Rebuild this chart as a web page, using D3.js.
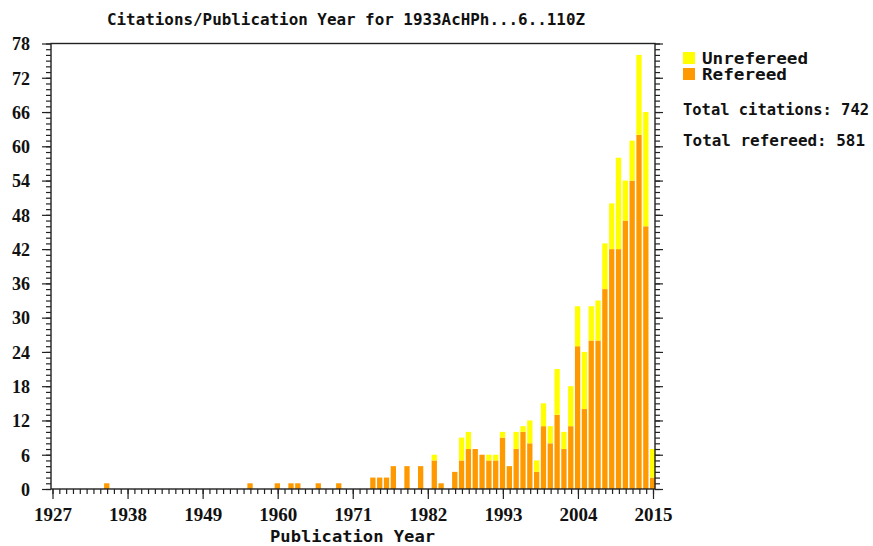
<!DOCTYPE html>
<html>
<head>
<meta charset="utf-8">
<script src="https://cdn.jsdelivr.net/npm/d3@7"></script>
<style>
  body { margin: 0; background: #fff; }
  .lbl { font-family: "DejaVu Sans Mono", monospace; font-weight: bold; fill: #111; }
  .num { font-family: "Liberation Serif", serif; font-weight: bold; fill: #111; }
</style>
</head>
<body>
<div id="chart"></div>
<script>
// citations per publication year
var years = [1935, 1956, 1960, 1962, 1963, 1966, 1969, 1974, 1975, 1976, 1977, 1979, 1981, 1983, 1984,
  1986, 1987, 1988, 1989, 1990, 1991, 1992, 1993, 1994, 1995, 1996, 1997, 1998, 1999, 2000,
  2001, 2002, 2003, 2004, 2005, 2006, 2007, 2008, 2009, 2010, 2011, 2012, 2013, 2014, 2015];
var refereed = [1, 1, 1, 1, 1, 1, 1, 2, 2, 2, 4, 4, 4, 5, 1,
  3, 5, 7, 7, 6, 5, 5, 9, 4, 7, 10, 8, 3, 11, 8,
  13, 7, 11, 25, 14, 26, 26, 35, 42, 42, 47, 54, 62, 46, 2];
var unrefereed = [0, 0, 0, 0, 0, 0, 0, 0, 0, 0, 0, 0, 0, 1, 0,
  0, 4, 3, 0, 0, 1, 1, 1, 0, 3, 1, 4, 2, 4, 3,
  8, 3, 7, 7, 10, 6, 7, 8, 8, 16, 7, 7, 14, 20, 5];
var yearTicks = [1927, 1938, 1949, 1960, 1971, 1982, 1993, 2004, 2015];
var countTicks = [0, 6, 12, 18, 24, 30, 36, 42, 48, 54, 60, 66, 72, 78];

drawChart();

function drawChart() {
  var width = 873, height = 546;
  var pl = 51, pr = 655, pt = 43.5, pb = 489;

  var svg = d3.select("#chart").append("svg")
    .attr("width", width)
    .attr("height", height);

  var x = d3.scaleLinear().domain([1927, 2015]).range([52.5, 653]);
  var y = d3.scaleLinear().domain([0, 78]).range([pb, pt]);

  var data = years.map(function(d, i) {
    return { year: d, ref: refereed[i], unref: unrefereed[i] };
  });

  // bars
  var bars = svg.append("g");
  bars.selectAll(".ref")
    .data(data)
    .enter().append("rect")
    .attr("x", function(d) { return x(d.year) - 3; })
    .attr("width", 5.3)
    .attr("y", function(d) { return y(d.ref); })
    .attr("height", function(d) { return y(0) - y(d.ref); })
    .style("fill", "#ff9900");
  bars.selectAll(".unref")
    .data(data.filter(function(d) { return d.unref > 0; }))
    .enter().append("rect")
    .attr("x", function(d) { return x(d.year) - 3; })
    .attr("width", 5.3)
    .attr("y", function(d) { return y(d.ref + d.unref); })
    .attr("height", function(d) { return y(d.ref) - y(d.ref + d.unref); })
    .style("fill", "#ffff00");

  function styleAxis(g) {
    g.select(".domain").remove();
    g.selectAll(".tick line").attr("stroke", "#222").attr("stroke-width", 1.2);
  }

  // left axis
  svg.append("g").attr("transform", "translate(" + pl + ",0)")
    .call(d3.axisLeft(y).tickValues(d3.range(0, 79)).tickSize(5).tickFormat(""))
    .call(styleAxis);
  var yl = svg.append("g").attr("transform", "translate(" + pl + ",0)")
    .call(d3.axisLeft(y).tickValues(countTicks).tickSize(9).tickPadding(12))
    .call(styleAxis);
  yl.selectAll("text").attr("class", "num").style("font-size", "18px").attr("dy", "0.35em");

  // right axis
  svg.append("g").attr("transform", "translate(" + pr + ",0)")
    .call(d3.axisRight(y).tickValues(d3.range(0, 79)).tickSize(5).tickFormat(""))
    .call(styleAxis);
  svg.append("g").attr("transform", "translate(" + pr + ",0)")
    .call(d3.axisRight(y).tickValues(countTicks).tickSize(8).tickFormat(""))
    .call(styleAxis);

  // bottom axis
  svg.append("g").attr("transform", "translate(0," + pb + ")")
    .call(d3.axisBottom(x).tickValues(d3.range(1927, 2016)).tickSize(5).tickFormat(""))
    .call(styleAxis);
  var xl = svg.append("g").attr("transform", "translate(0," + pb + ")")
    .call(d3.axisBottom(x).tickValues(yearTicks).tickSize(10).tickFormat(d3.format("d")))
    .call(styleAxis);
  xl.selectAll("text").attr("class", "num").style("font-size", "19px")
    .attr("y", 32).attr("dy", 0);

  // frame
  svg.append("rect")
    .attr("x", pl).attr("y", pt)
    .attr("width", pr - pl).attr("height", pb - pt)
    .style("fill", "none").style("stroke", "#222").style("stroke-width", 1.4);

  // title and axis label
  svg.append("text").attr("class", "lbl")
    .attr("x", 107).attr("y", 25)
    .attr("textLength", 478).attr("lengthAdjust", "spacingAndGlyphs")
    .style("font-size", "16px")
    .text("Citations/Publication Year for 1933AcHPh...6..110Z");
  svg.append("text").attr("class", "lbl")
    .attr("x", 270).attr("y", 542)
    .attr("textLength", 165).attr("lengthAdjust", "spacingAndGlyphs")
    .style("font-size", "16px")
    .text("Publication Year");

  // legend
  var legend = [
    { name: "Unrefereed", color: "#ffff00", y: 52, len: 106 },
    { name: "Refereed", color: "#ff9900", y: 68, len: 85 }
  ];
  legend.forEach(function(l) {
    svg.append("rect").attr("x", 683).attr("y", l.y).attr("width", 12).attr("height", 12)
      .style("fill", l.color);
    svg.append("text").attr("class", "lbl")
      .attr("x", 702).attr("y", l.y + 12)
      .attr("textLength", l.len).attr("lengthAdjust", "spacingAndGlyphs")
      .style("font-size", "15px")
      .text(l.name);
  });

  var totalCites = d3.sum(refereed) + d3.sum(unrefereed);
  var totalRef = d3.sum(refereed);
  svg.append("text").attr("class", "lbl")
    .attr("x", 683).attr("y", 115)
    .attr("textLength", 186).attr("lengthAdjust", "spacingAndGlyphs")
    .style("font-size", "16px")
    .text("Total citations: " + totalCites);
  svg.append("text").attr("class", "lbl")
    .attr("x", 683).attr("y", 146)
    .attr("textLength", 182).attr("lengthAdjust", "spacingAndGlyphs")
    .style("font-size", "16px")
    .text("Total refereed: " + totalRef);
}
</script>
</body>
</html>
